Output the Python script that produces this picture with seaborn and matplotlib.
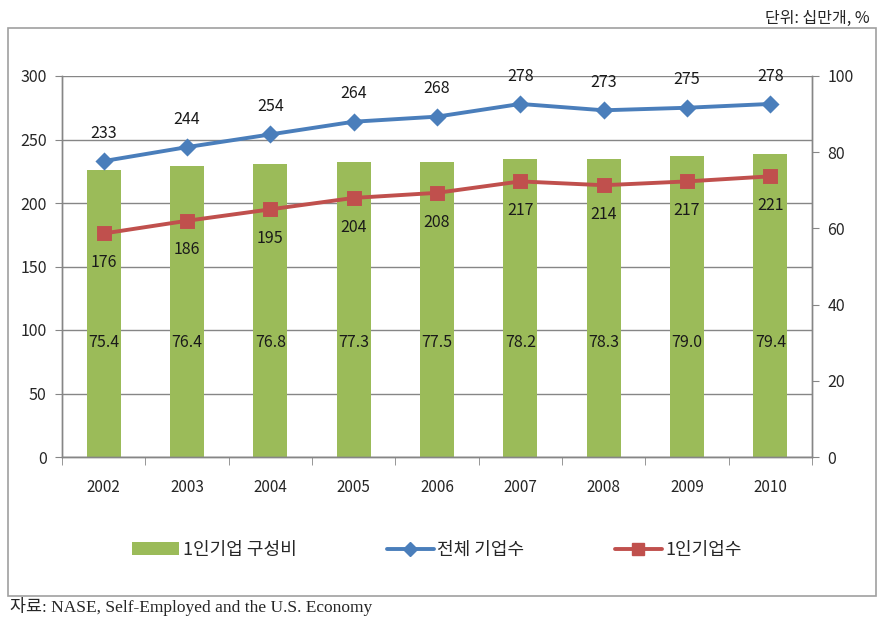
import numpy as np
import pandas as pd
import matplotlib.pyplot as plt
import seaborn as sns
from matplotlib.patches import Rectangle, Patch
from matplotlib.lines import Line2D

# data
years = ["2002", "2003", "2004", "2005", "2006", "2007", "2008", "2009", "2010"]
share = [75.4, 76.4, 76.8, 77.3, 77.5, 78.2, 78.3, 79.0, 79.4]   # 1인기업 구성비 (%)
total = [233, 244, 254, 264, 268, 278, 273, 275, 278]            # 전체 기업수
solo = [176, 186, 195, 204, 208, 217, 214, 217, 221]             # 1인기업수
left_ticks = [0, 50, 100, 150, 200, 250, 300]
right_ticks = [0, 20, 40, 60, 80, 100]

data = pd.DataFrame({"year": years, "share": share, "total": total, "solo": solo})

green = "#9BBB59"
blue = "#4A7EBB"
red = "#C0504D"
grey = "#868686"

sns.set_style("white")
plt.rcParams["font.family"] = ["Noto Sans CJK KR", "DejaVu Sans"]

fig = plt.figure(figsize=(8.83, 6.41), dpi=100)

# outer chart frame
fig.patches.append(Rectangle((8 / 883, 1 - 596 / 641), 868 / 883, 568 / 641,
                             transform=fig.transFigure, fill=False,
                             edgecolor="#A0A0A0", linewidth=1.2))

ax_bar = fig.add_axes([62 / 883, 1 - 457 / 641, 750 / 883, 381 / 641])
ax_bar.set_zorder(1)
sns.barplot(data=data, x="year", y="share", ax=ax_bar, color=green,
            width=0.41, saturation=1, linewidth=0)
ax_bar.set_ylim(0, 100)
ax_bar.set_xlim(-0.5, len(years) - 0.5)

ax_line = ax_bar.twinx()
ax_line.set_zorder(2)
ax_line.patch.set_visible(False)

# gridlines matching left axis, drawn behind bars
ax_bar.yaxis.remove_overlapping_locs = False
ax_bar.set_yticks(np.array(left_ticks) / 3, minor=True)
ax_bar.grid(True, which="minor", axis="y", color=grey, linewidth=1.0)
ax_bar.set_axisbelow(True)
ax_bar.set_yticks(right_ticks)
ax_bar.yaxis.tick_right()
ax_bar.yaxis.set_label_position("right")
ax_bar.tick_params(axis="y", which="minor", left=False, right=False, length=0)
ax_bar.tick_params(axis="y", which="major", left=False, labelleft=False,
                   right=True, labelright=True, length=5, color=grey,
                   labelsize=11.5, pad=6)

for i, v in enumerate(share):
    ax_bar.text(i, 30, f"{v:.1f}", ha="center", va="center", fontsize=11.5,
                color="#1a1a1a")

sns.pointplot(data=data, x="year", y="total", ax=ax_line, color=blue,
              markers="D", markersize=7, linewidth=2.8)
sns.pointplot(data=data, x="year", y="solo", ax=ax_line, color=red,
              markers="s", markersize=9, linewidth=2.8)
ax_line.set_ylim(0, 300)
ax_line.set_xlim(-0.5, len(years) - 0.5)
ax_line.set_yticks(left_ticks)
ax_line.yaxis.tick_left()
ax_line.yaxis.set_label_position("left")
ax_line.tick_params(axis="y", left=True, labelleft=True, right=False,
                    labelright=False, length=5, color=grey,
                    labelsize=11.5, pad=6)

for i, v in enumerate(total):
    ax_line.annotate(str(v), (i, v), xytext=(0, 20), textcoords="offset points",
                     ha="center", va="center", fontsize=11.5, color="#1a1a1a")
for i, v in enumerate(solo):
    ax_line.annotate(str(v), (i, v), xytext=(0, -21), textcoords="offset points",
                     ha="center", va="center", fontsize=11.5, color="#1a1a1a")

for a in (ax_bar, ax_line):
    a.set_xlabel("")
    a.set_ylabel("")
    a.spines["top"].set_visible(False)
    for s in ("left", "right", "bottom"):
        a.spines[s].set_color(grey)
        a.spines[s].set_linewidth(1.0)

# x ticks: labels at categories, tick marks at category boundaries
ax_bar.set_xticks(np.arange(-0.5, len(years)), minor=True)
ax_bar.tick_params(axis="x", which="minor", bottom=True, length=6, color=grey)
ax_bar.tick_params(axis="x", which="major", bottom=False, length=0,
                   labelsize=11, pad=16)
ax_line.tick_params(axis="x", bottom=False, labelbottom=False)

# legend
handles = [
    Patch(facecolor=green, edgecolor="none"),
    Line2D([0], [0], color=blue, lw=2.8, marker="D", markersize=7),
    Line2D([0], [0], color=red, lw=2.8, marker="s", markersize=9),
]
fig.legend(handles, ["1인기업 구성비", "전체 기업수", "1인기업수"],
           loc="center", bbox_to_anchor=(0.495, 1 - 550 / 641), ncol=3,
           frameon=False, fontsize=13, columnspacing=5.0, handlelength=2.6,
           handletextpad=0.2)

fig.text(870 / 883, 1 - 18 / 641, "단위: 십만개, %", ha="right", va="center",
         fontsize=11.5)
fig.text(10 / 883, 1 - 607 / 641, "자료: NASE, Self-Employed and the U.S. Economy",
         ha="left", va="center", fontsize=12.5,
         family=["Liberation Serif", "Noto Sans CJK KR"])

fig.savefig("out.png", dpi=100)
